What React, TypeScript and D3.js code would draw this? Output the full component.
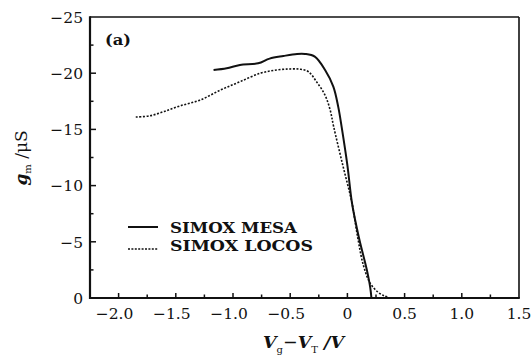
import React from "react";
import * as d3 from "d3";

const mesaX = [-1.17, -1.055, -0.94, -0.78, -0.68, -0.56, -0.44, -0.37, -0.285, -0.195, -0.123, -0.08, -0.05, 0.0, 0.04, 0.1, 0.17, 0.2, 0.21];
const mesaY = [-20.28, -20.44, -20.73, -20.88, -21.3, -21.53, -21.71, -21.71, -21.47, -20.28, -18.8, -17.0, -15.2, -11.8, -8.45, -5.4, -2.5, -0.9, 0];
const locosX = [-1.85, -1.73, -1.6, -1.46, -1.29, -1.11, -0.94, -0.76, -0.62, -0.5, -0.41, -0.34, -0.27, -0.196, -0.15, -0.12, -0.04, 0.04, 0.09, 0.14, 0.2, 0.27, 0.32, 0.37];
const locosY = [-16.1, -16.2, -16.6, -17.1, -17.6, -18.5, -19.24, -20.0, -20.28, -20.38, -20.35, -20.13, -19.24, -18.06, -16.7, -15.24, -11.8, -8.45, -5.4, -2.9, -1.3, -0.5, -0.2, 0];

const xMajor = [-2.0, -1.5, -1.0, -0.5, 0, 0.5, 1.0, 1.5];
const xLabels = ["−2.0", "−1.5", "−1.0", "−0.5", "0", "0.5", "1.0", "1.5"];
const xMinor = [-1.75, -1.25, -0.75, -0.25, 0.25, 0.75, 1.25];
const yMajor = [0, -5, -10, -15, -20, -25];
const yLabels = ["0", "−5", "−10", "−15", "−20", "−25"];
const yMinor = [-2.5, -7.5, -12.5, -17.5, -22.5];

const seriesNames = ["SIMOX MESA", "SIMOX LOCOS"];

export default function App() {
  const L = 90, R = 519, T = 17, B = 298;
  const x = d3.scaleLinear().domain([-2.25, 1.5]).range([L, R]);
  const y = d3.scaleLinear().domain([0, -25]).range([B, T]);
  const mesa = mesaX.map((v, i) => [v, mesaY[i]] as [number, number]);
  const locos = locosX.map((v, i) => [v, locosY[i]] as [number, number]);
  const font = "'DejaVu Serif', serif";
  const lineC = d3.line<[number, number]>().x(d => x(d[0])).y(d => y(d[1])).curve(d3.curveCatmullRom.alpha(0.5));
  return (
    <svg width={532} height={360} style={{ position: "absolute", left: 0, top: 0, background: "#fff" }}>
      <rect x={0} y={0} width={532} height={360} fill="#fff" />
      {/* frame */}
      <line x1={L} y1={T} x2={R} y2={T} stroke="#111" strokeWidth={1.6} />
      <line x1={R} y1={T} x2={R} y2={B} stroke="#111" strokeWidth={1.6} />
      <line x1={L} y1={T - 0.8} x2={L} y2={B + 1} stroke="#111" strokeWidth={2.2} />
      <line x1={L - 1} y1={B} x2={R + 0.8} y2={B} stroke="#111" strokeWidth={2.2} />
      {/* x ticks */}
      {xMajor.map((v, i) => (
        <g key={"xm" + i}>
          {v > -2.25 && v < 1.5 && <line x1={x(v)} x2={x(v)} y1={B} y2={B - 5} stroke="#111" strokeWidth={1.5} />}
          <text x={x(v) - (xLabels[i].startsWith("−") ? 4 : 0)} y={319} textAnchor="middle" fontFamily={font} fontSize={15.5} fill="#111">{xLabels[i]}</text>
        </g>
      ))}
      {xMinor.map((v, i) => (
        <line key={"xn" + i} x1={x(v)} x2={x(v)} y1={B} y2={B - 3.5} stroke="#111" strokeWidth={1.5} />
      ))}
      {/* y ticks */}
      {yMajor.map((v, i) => (
        <g key={"ym" + i}>
          {v !== 0 && v !== -25 && <line x1={L} x2={L + 6} y1={y(v)} y2={y(v)} stroke="#111" strokeWidth={1.5} />}
          <text x={83} y={y(v) + 5.8} textAnchor="end" fontFamily={font} fontSize={15.5} fill="#111">{yLabels[i]}</text>
        </g>
      ))}
      {yMinor.map((v, i) => (
        <line key={"yn" + i} x1={L} x2={L + 3.5} y1={y(v)} y2={y(v)} stroke="#111" strokeWidth={1.5} />
      ))}
      {/* curves */}
      <path d={lineC(mesa) || ""} fill="none" stroke="#111" strokeWidth={2} />
      <path d={lineC(locos) || ""} fill="none" stroke="#111" strokeWidth={1.6} strokeDasharray="2 1.6" />
      {/* legend */}
      <line x1={128} x2={158} y1={227} y2={227} stroke="#111" strokeWidth={2} />
      <line x1={128} x2={158} y1={249} y2={249} stroke="#111" strokeWidth={1.5} strokeDasharray="2 1.4" />
      <text x={170} y={232.5} fontFamily={font} fontWeight="bold" fontSize={14.5} textLength={127} lengthAdjust="spacingAndGlyphs" fill="#111">{seriesNames[0]}</text>
      <text x={170} y={250.5} fontFamily={font} fontWeight="bold" fontSize={14.5} textLength={143} lengthAdjust="spacingAndGlyphs" fill="#111">{seriesNames[1]}</text>
      {/* panel label */}
      <text x={105} y={45} fontFamily={font} fontWeight="bold" fontSize={15} textLength={26} lengthAdjust="spacingAndGlyphs" fill="#111">(a)</text>
      {/* x axis label */}
      <text x={263} y={348} fontFamily={font} fontSize={17.5} fill="#111">
        <tspan fontStyle="italic" fontWeight="bold">V</tspan>
        <tspan fontSize={10} dy={5}>g</tspan>
        <tspan dy={-5}>−</tspan>
        <tspan fontStyle="italic" fontWeight="bold">V</tspan>
        <tspan fontSize={10} dy={5}>T</tspan>
        <tspan dy={-5} fontStyle="italic" fontWeight="bold"> /V</tspan>
      </text>
      {/* y axis label */}
      <text transform="translate(27,158) rotate(-90)" textAnchor="middle" fontFamily={font} fontSize={17} fill="#111">
        <tspan fontStyle="italic" fontWeight="bold">g</tspan>
        <tspan fontSize={10} dy={4}>m</tspan>
        <tspan dy={-4}> /μS</tspan>
      </text>
    </svg>
  );
}
